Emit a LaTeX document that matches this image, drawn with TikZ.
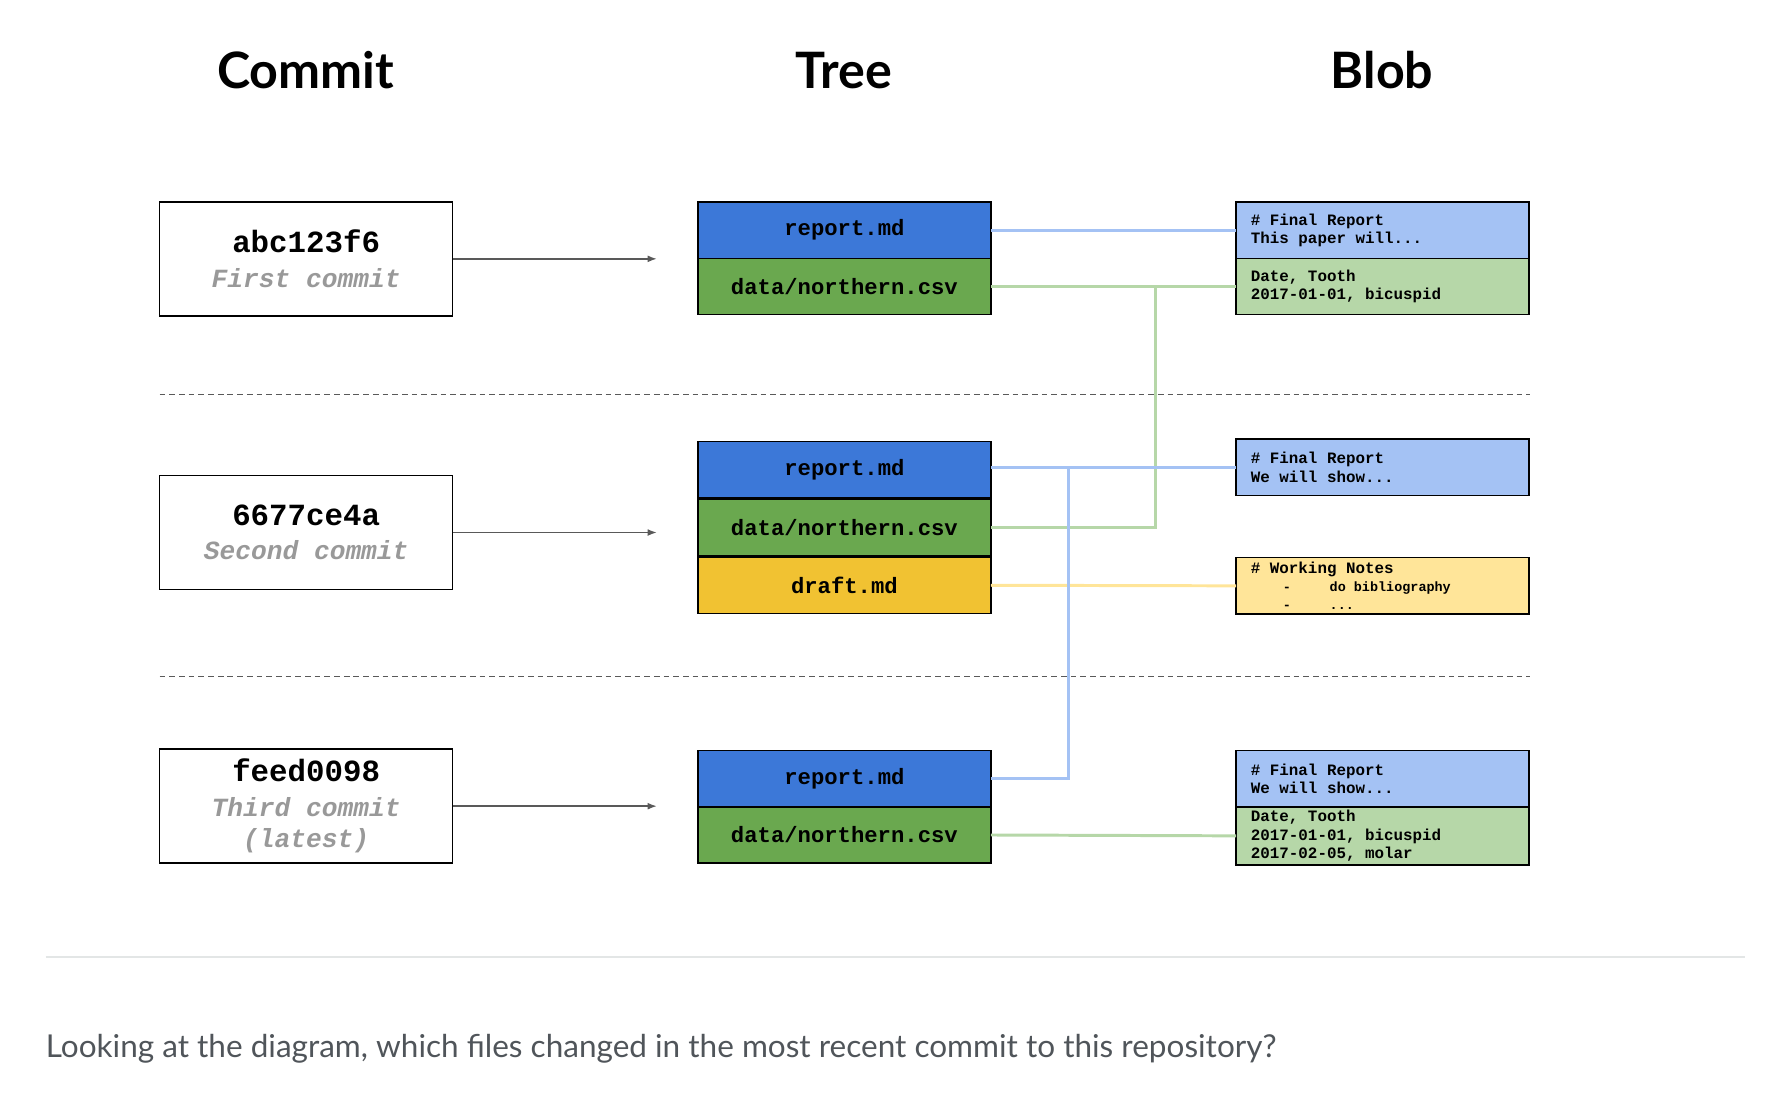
\documentclass[tikz,border=0pt]{standalone}
\usepackage{fontspec}
\setmainfont{Lato}
\newfontfamily\lato{Lato}
\newfontfamily\cour{Liberation Mono}
\usetikzlibrary{arrows.meta}
\definecolor{treeblue}{HTML}{3C78D8}
\definecolor{treegreen}{HTML}{6AA84F}
\definecolor{treeyellow}{HTML}{F1C232}
\definecolor{blobblue}{HTML}{A4C2F4}
\definecolor{blobgreen}{HTML}{B6D7A8}
\definecolor{blobyellow}{HTML}{FFE599}
\definecolor{arrowgray}{HTML}{595959}
\definecolor{msggray}{HTML}{999999}
\definecolor{qgray}{HTML}{50555A}
\definecolor{rulegray}{HTML}{E3E6E6}
\newcommand{\ms}{\hspace*{0.6em}}
\tikzset{
  heading/.style={font=\lato\bfseries\fontsize{44}{50}\selectfont, anchor=base},
  commitbox/.style={draw=black, line width=1.3pt, fill=white, minimum width=257pt, minimum height=100pt, inner sep=0pt, outer sep=0pt, anchor=north west, align=center, font=\cour\bfseries\fontsize{27}{30}\selectfont},
  treebox/.style={draw=black, line width=1.3pt, minimum width=257pt, minimum height=49.5pt, inner sep=0pt, outer sep=0pt, anchor=north west, font=\cour\bfseries\fontsize{19.5}{22}\selectfont},
  blobbox/.style={draw=black, line width=1.3pt, minimum width=257pt, minimum height=49.5pt, inner xsep=13pt, inner ysep=0pt, outer sep=0pt, anchor=north west, text width=231pt, align=left, font=\cour\bfseries\fontsize{13.9}{16}\selectfont},
  commitarrow/.style={draw=arrowgray, line width=1.3pt, -{Latex[length=8pt,width=6pt]}},
  link/.style={line width=2.6pt},
  sep/.style={draw=arrowgray, line width=1.2pt, dash pattern=on 5pt off 3.5pt},
}
\newcommand{\hashtxt}[1]{{\cour\bfseries\fontsize{27}{30}\selectfont #1}}
\newcommand{\msgtxt}[1]{{\color{msggray}\cour\bfseries\itshape\fontsize{23}{28}\selectfont #1}}
\begin{document}
\begin{tikzpicture}[x=1pt,y=-1pt]
\useasboundingbox (0,0) rectangle (1568,978.7);

% headings
\node[heading] (hc) at (268,78) {Commit};
\node[heading] (ht) at (740,78) {Tree};
\node[heading] (hb) at (1212,78) {Blob};

% separators
\draw[sep] (140,346) -- (1342,346);
\draw[sep] (140,593) -- (1342,593);

% commits
\node[commitbox] (c1) at (140,177) {\hashtxt{abc123f6}\\\msgtxt{First\ms commit}};
\node[commitbox] (c2) at (140,417) {\hashtxt{6677ce4a}\\\msgtxt{Second\ms commit}};
\node[commitbox] (c3) at (140,657) {\hashtxt{feed0098}\\\msgtxt{Third\ms commit}\\[-2pt]\msgtxt{(latest)}};

% tree
\node[treebox, fill=treeblue] (t1r) at (612,177) {report.md};
\node[treebox, fill=treegreen] (t1d) at (612,226.5) {data/northern.csv};
\node[treebox, fill=treeblue] (t2r) at (612,387) {report.md};
\node[treebox, fill=treegreen] (t2d) at (612,437.5) {data/northern.csv};
\node[treebox, fill=treeyellow] (t2y) at (612,488.5) {draft.md};
\node[treebox, fill=treeblue] (t3r) at (612,658) {report.md};
\node[treebox, fill=treegreen] (t3d) at (612,707.5) {data/northern.csv};

% blobs
\node[blobbox, fill=blobblue] (b1r) at (1084,177) {\#\ms Final\ms Report\\This\ms paper\ms will...};
\node[blobbox, fill=blobgreen] (b1d) at (1084,226.5) {Date,\ms Tooth\\2017-01-01,\ms bicuspid};
\node[blobbox, fill=blobblue] (b2r) at (1084,385) {\#\ms Final\ms Report\\We\ms will\ms show...};
\node[blobbox, fill=blobyellow] (b2y) at (1084,489) {\#\ms Working\ms Notes\\
  {\fontsize{11.8}{15}\selectfont\hspace*{28pt}-\hspace*{34pt}do\ms bibliography}\\
  {\fontsize{11.8}{15}\selectfont\hspace*{28pt}-\hspace*{34pt}...}};
\node[blobbox, fill=blobblue] (b3r) at (1084,658) {\#\ms Final\ms Report\\We\ms will\ms show...};
\node[blobbox, fill=blobgreen, minimum height=51pt] (b3d) at (1084,707.5) {Date,\ms Tooth\\2017-01-01,\ms bicuspid\\2017-02-05,\ms molar};

% commit -> tree arrows
\coordinate (a1) at (576,227);
\coordinate (a2) at (576,467);
\coordinate (a3) at (576,707);
\draw[commitarrow] (c1.east) -- (a1);
\draw[commitarrow] (c2.east) -- (a2);
\draw[commitarrow] (c3.east) -- (a3);

% green links
\coordinate (gj) at (1013,251.25);
\draw[link, blobgreen] (t1d.east) -- (b1d.west);
\draw[link, blobgreen] (t2d.east) -| (gj);
\draw[link, blobgreen] (t3d.east) -- (b3d.west);
% yellow link
\draw[link, blobyellow] (t2y.east) -- (b2y.west);
% blue links
\coordinate (bj) at (937,409.75);
\draw[link, blobblue] (t1r.east) -- (b1r.west);
\draw[link, blobblue] (t2r.east |- b2r.west) -- (b2r.west);
\draw[link, blobblue] (t3r.east) -| (bj);

% footer
\draw[rulegray, line width=1.5pt] (40,839) -- (1530,839);
\node[anchor=base west, inner sep=0pt, text=qgray, font=\lato\fontsize{27.65}{32}\selectfont] (q) at (40,927) {Looking at the diagram, which files changed in the most recent commit to this repository?};
\end{tikzpicture}
\end{document}
